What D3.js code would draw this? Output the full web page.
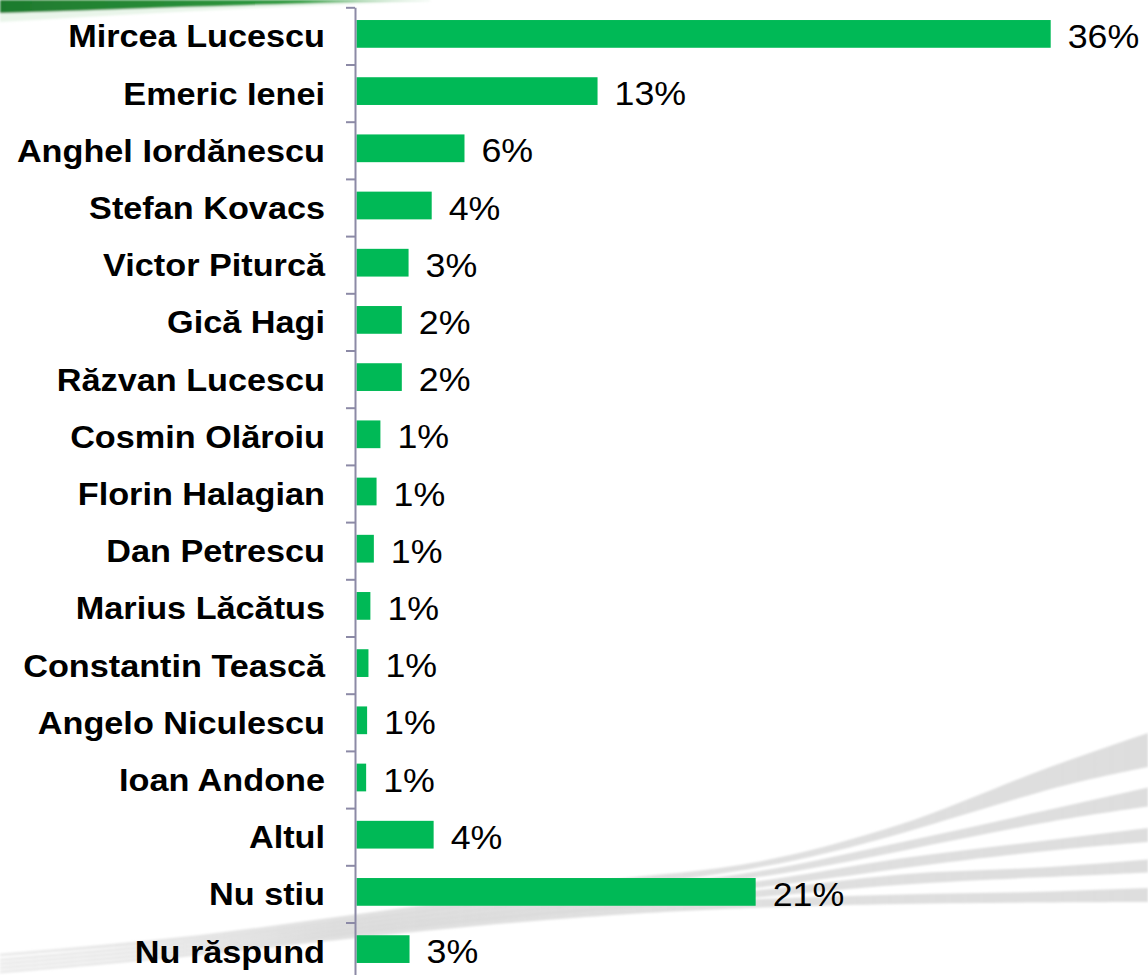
<!DOCTYPE html>
<html>
<head>
<meta charset="utf-8">
<script src="https://cdn.jsdelivr.net/npm/d3@7"></script>
<style>
  html, body { margin: 0; padding: 0; background: #fff; }
  svg { display: block; }
</style>
</head>
<body>
<svg id="chart" width="1148" height="975"></svg>
<script>
// Survey answers: best Romanian football coach
const categories = [
  "Mircea Lucescu", "Emeric Ienei", "Anghel Iordănescu", "Stefan Kovacs",
  "Victor Piturcă", "Gică Hagi", "Răzvan Lucescu", "Cosmin Olăroiu",
  "Florin Halagian", "Dan Petrescu", "Marius Lăcătus", "Constantin Tească",
  "Angelo Niculescu", "Ioan Andone", "Altul", "Nu stiu", "Nu răspund"
];
const shares = [36, 12.5, 5.6, 3.9, 2.7, 2.35, 2.35, 1.24, 1.04, 0.9, 0.72, 0.62, 0.55, 0.5, 4.0, 20.7, 2.75];

const svg = d3.select("#chart");
const W = 1148, H = 975;

// ---- background decoration ----
const defs = svg.append("defs");
const gGreen = defs.append("linearGradient").attr("id", "greenSwoosh")
  .attr("x1", "0").attr("x2", "1").attr("y1", "0").attr("y2", "0");
gGreen.append("stop").attr("offset", "0").attr("stop-color", "#1e7a2e");
gGreen.append("stop").attr("offset", "0.7").attr("stop-color", "#2f9a3e");
gGreen.append("stop").attr("offset", "1").attr("stop-color", "#6cc07a").attr("stop-opacity", 0.4);

const gGrey = defs.append("linearGradient").attr("id", "greySwoosh")
  .attr("gradientUnits", "userSpaceOnUse")
  .attr("x1", 0).attr("x2", W).attr("y1", 0).attr("y2", 0);
gGrey.append("stop").attr("offset", "0").attr("stop-color", "#e4e4e4").attr("stop-opacity", 0.75);
gGrey.append("stop").attr("offset", "0.3").attr("stop-color", "#d9d9d9").attr("stop-opacity", 0.8);
gGrey.append("stop").attr("offset", "1").attr("stop-color", "#dedede");

defs.append("filter").attr("id", "soft")
  .append("feGaussianBlur").attr("stdDeviation", 0.9);

const deco = svg.append("g").attr("filter", "url(#soft)");
const edge = d3.line().curve(d3.curveMonotoneX);

// green swoosh, top-left
const gTop = [[0, 0], [430, 0]];
const gBot = [[0, 13], [80, 10.5], [180, 7], [300, 3.5], [430, 0]];
deco.append("path")
  .attr("d", edge([[0, 12], [120, 9], [260, 5], [430, 0]]) + "L" +
    edge([[0, 22], [120, 15], [260, 8], [430, 1]].reverse()).slice(1) + "Z")
  .attr("fill", "#bfe3c4").attr("opacity", 0.35);
deco.append("path")
  .attr("d", edge(gTop) + "L" + edge(gBot.slice().reverse()).slice(1) + "Z")
  .attr("fill", "url(#greenSwoosh)");

// grey streaks sweeping up to the right, bottom of the chart
const sx = [0, 200, 355, 600, 760, 900, 1050, 1148];
const streaks = [
  { c: [955, 938, 918, 885, 866, 830, 777, 750], w: [3, 6, 7, 8, 9, 11, 20, 34] },
  { c: [960, 942, 922, 893, 875, 847, 815, 797], w: [3, 5, 6, 7, 8, 9, 11, 19] },
  { c: [964, 946, 926, 900, 885, 863, 845, 835], w: [3, 5, 6, 7, 8, 9, 10, 14] },
  { c: [968, 950, 930, 906, 894, 879, 872, 866], w: [3, 5, 6, 7, 8, 9, 10, 13] },
  { c: [972, 954, 934, 911, 903, 899, 897, 895], w: [3, 5, 6, 7, 8, 9, 11, 14] }
];
streaks.forEach(s => {
  const top = sx.map((x, i) => [x, s.c[i] - s.w[i] / 2]);
  const bot = sx.map((x, i) => [x, s.c[i] + s.w[i] / 2]);
  const botRev = d3.line().curve(d3.curveMonotoneX)(bot);
  // trace the lower edge back from right to left
  const pts = bot.slice().reverse();
  const backward = d3.line().curve(d3.curveBasis)(pts);
  deco.append("path")
    .attr("d", edge(top) + "L" + backward.slice(1) + "Z")
    .attr("fill", "url(#greySwoosh)");
});

// ---- chart ----
const axisX = 355;
const yTop = 7.3, step = 57.2;

const x = d3.scaleLinear().domain([0, 36]).range([axisX + 1.5, 1050.7]);
const y = d3.scaleBand().domain(categories)
  .range([yTop, yTop + step * categories.length])
  .paddingInner(0.515).paddingOuter(0.2575);
const slot = d3.scaleLinear().domain([0, categories.length])
  .range([yTop, yTop + step * categories.length]);

const plot = svg.append("g");

plot.selectAll("rect.bar").data(categories).join("rect")
  .attr("class", "bar")
  .attr("x", x(0))
  .attr("y", d => y(d) - 2)
  .attr("width", (d, i) => x(shares[i]) - x(0))
  .attr("height", y.bandwidth())
  .attr("fill", "#00b956");

// vertical category axis with ticks between bands
const axis = plot.append("g")
  .attr("transform", `translate(${axisX},0)`)
  .call(d3.axisLeft(slot).tickValues(d3.range(0, categories.length + 1))
    .tickSize(9).tickSizeOuter(0).tickFormat(""));
axis.select(".domain").attr("stroke", "#8c8aa6").attr("stroke-width", 2);
axis.selectAll(".tick line").attr("stroke", "#8c8aa6").attr("stroke-width", 2);

// category names
plot.selectAll("text.cat").data(categories).join("text")
  .attr("class", "cat")
  .attr("transform", d => `translate(325,${y(d) + y.bandwidth() / 2 + 11.5}) scale(1.08,1)`)
  .attr("text-anchor", "end")
  .attr("font-family", "'Liberation Sans', Arial, sans-serif")
  .attr("font-weight", "bold")
  .attr("font-size", 31.7)
  .attr("fill", "#000")
  .text(d => d);

// value labels
plot.selectAll("text.val").data(categories).join("text")
  .attr("class", "val")
  .attr("transform", (d, i) => `translate(${x(shares[i]) + 17},${y(d) + y.bandwidth() / 2 + 12}) scale(1.1,1)`)
  .attr("font-family", "'Liberation Sans', Arial, sans-serif")
  .attr("font-size", 32.5)
  .attr("fill", "#000")
  .text((d, i) => Math.round(shares[i]) + "%");
</script>
</body>
</html>
